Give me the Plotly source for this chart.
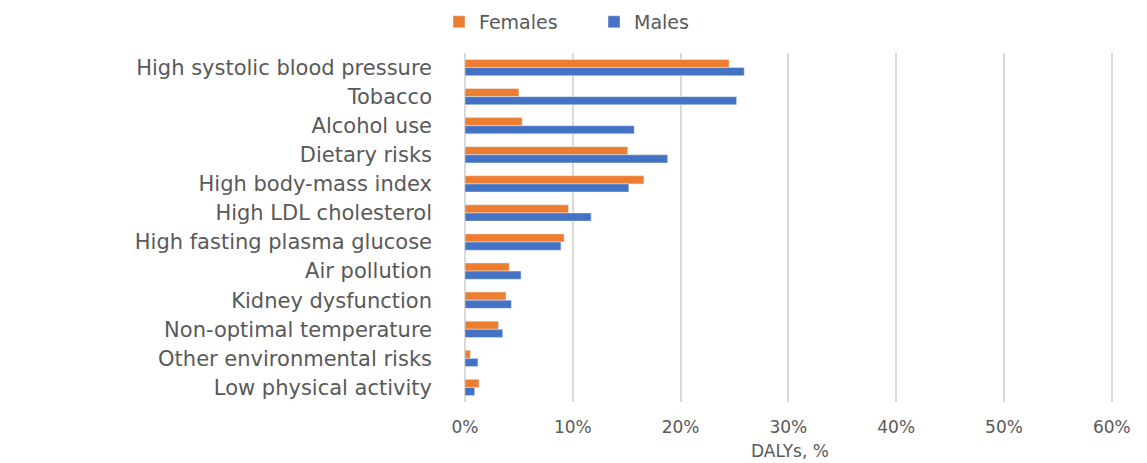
import plotly.graph_objects as go

# Risk factors, top to bottom as drawn in the reference
risk_factors = [
    "High systolic blood pressure",
    "Tobacco",
    "Alcohol use",
    "Dietary risks",
    "High body-mass index",
    "High LDL cholesterol",
    "High fasting plasma glucose",
    "Air pollution",
    "Kidney dysfunction",
    "Non-optimal temperature",
    "Other environmental risks",
    "Low physical activity",
]

# DALYs, %
females = [24.5, 5.0, 5.3, 15.1, 16.6, 9.6, 9.2, 4.1, 3.8, 3.1, 0.5, 1.3]
males = [25.9, 25.2, 15.7, 18.8, 15.2, 11.7, 8.9, 5.2, 4.3, 3.5, 1.2, 0.9]

x_ticks = [0, 10, 20, 30, 40, 50, 60]
x_tick_labels = [f"{v}%" for v in x_ticks]

FONT = "DejaVu Sans"
TEXT = "#595959"

fig = go.Figure()
fig.add_trace(go.Bar(
    name="Females", y=risk_factors, x=females, orientation="h",
    marker_color="#ED7D31",
))
fig.add_trace(go.Bar(
    name="Males", y=risk_factors, x=males, orientation="h",
    marker_color="#4472C4",
))

# page body has an 8px margin, so the figure is sized to fit the window
fig.update_layout(
    width=1139, height=455,
    margin=dict(l=457, r=32, t=45, b=61, autoexpand=False),
    paper_bgcolor="white", plot_bgcolor="white",
    barmode="group", bargap=0.44, bargroupgap=0,
    font=dict(family=FONT, color=TEXT, size=17),
    legend=dict(
        orientation="h", x=-0.04, y=1.089, xanchor="left", yanchor="middle",
        font=dict(size=19, color=TEXT), itemwidth=30, traceorder="normal",
        entrywidth=110, entrywidthmode="pixels",
    ),
)

fig.update_xaxes(
    range=[0, 60.3], tickvals=x_ticks, ticktext=x_tick_labels,
    showgrid=True, gridcolor="#D9D9D9", gridwidth=2,
    zeroline=True, zerolinecolor="#D9D9D9", zerolinewidth=2,
    showline=False, ticks="", ticklabelstandoff=13, automargin=False,
    tickfont=dict(size=17, color=TEXT),
    title=dict(text="DALYs, %", font=dict(size=17, color=TEXT), standoff=9),
)
fig.update_yaxes(
    autorange="reversed", showgrid=False, ticks="", ticklabelstandoff=32,
    automargin=False, tickfont=dict(size=21, color=TEXT),
)

fig.write_html("out.html")
